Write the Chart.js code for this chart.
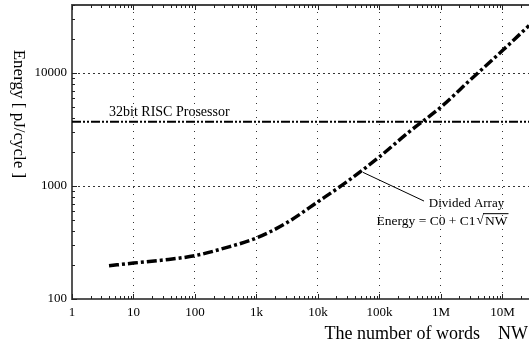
<!DOCTYPE html>
<html>
<head>
<meta charset="utf-8">
<script src="https://cdn.jsdelivr.net/npm/chart.js@4.4.0/dist/chart.umd.min.js"></script>
<style>
  html, body { margin: 0; padding: 0; background: #fff; overflow: hidden; }
</style>
</head>
<body>
<canvas id="chart" width="529" height="343"></canvas>
<script>
// Divided array curve (number of words -> energy)
const curveNW = [4, 10, 30, 100, 300, 1e3, 3e3, 1e4, 3e4, 1e5, 3e5, 1e6, 3e6, 1e7, 2.7e7];
const curveEnergy = [197, 208, 221, 242, 282, 347, 468, 726, 1097, 1815, 3000, 5000, 8700, 15800, 26300];

// 32bit RISC reference level
const riscNW = [1, 2.7e7];
const riscEnergy = [3700, 3700];

// axes
const xTicks = [1, 10, 100, 1e3, 1e4, 1e5, 1e6, 1e7];
const xLabels = ["1", "10", "100", "1k", "10k", "100k", "1M", "10M"];
const yTicks = [100, 1000, 10000];
const yLabels = ["100", "1000", "10000"];
const xRange = [1, 2.7e7];
const yRange = [100, 40000];

// annotation anchors (data units)
const riscLabelAt = [4, 4500];
const noteFrom = [54000, 1320];
const noteTo = [530000, 736];
const noteTextAt = [2.6e6, 705];

const SERIF = "'Liberation Serif', 'DejaVu Serif', serif";

const extrasPlugin = {
  id: "extras",
  afterDraw(chart) {
    const ctx = chart.ctx;
    const xs = chart.scales.x;
    const ys = chart.scales.y;
    const area = chart.chartArea;
    ctx.save();

    // top frame line
    ctx.strokeStyle = "#444";
    ctx.lineWidth = 2;
    ctx.beginPath();
    ctx.moveTo(area.left, area.top);
    ctx.lineTo(area.right, area.top);
    ctx.stroke();

    // minor + major ticks, pointing inwards
    ctx.lineWidth = 1;
    ctx.strokeStyle = "#222";
    for (let d = 1; d <= 1e7; d *= 10) {
      for (let m = 1; m <= 9; m++) {
        const v = m * d;
        if (v > xRange[1]) break;
        const px = Math.round(xs.getPixelForValue(v)) + 0.5;
        const len = m === 1 ? 5 : 3;
        ctx.beginPath();
        ctx.moveTo(px, area.bottom);
        ctx.lineTo(px, area.bottom - len);
        ctx.moveTo(px, area.top);
        ctx.lineTo(px, area.top + len);
        ctx.stroke();
      }
    }
    for (let d = 100; d <= 1e4; d *= 10) {
      for (let m = 1; m <= 9; m++) {
        const v = m * d;
        if (v > yRange[1]) break;
        const py = Math.round(ys.getPixelForValue(v)) + 0.5;
        const len = m === 1 ? 5 : 3;
        ctx.beginPath();
        ctx.moveTo(area.left, py);
        ctx.lineTo(area.left + len, py);
        ctx.stroke();
      }
    }

    ctx.fillStyle = "#000";

    // axis titles
    ctx.font = "18px " + SERIF;
    ctx.textAlign = "right";
    ctx.textBaseline = "middle";
    ctx.fillText("The number of words    NW", 528, 334);

    ctx.font = "17px " + SERIF;
    ctx.save();
    ctx.translate(18, 114);
    ctx.rotate(Math.PI / 2);
    ctx.textAlign = "center";
    ctx.fillText("Energy [ pJ/cycle ]", 0, 0);
    ctx.restore();

    // RISC label
    ctx.font = "14px " + SERIF;
    ctx.textAlign = "left";
    ctx.fillText("32bit RISC Prosessor",
      xs.getPixelForValue(riscLabelAt[0]), ys.getPixelForValue(riscLabelAt[1]));

    // divided array note
    ctx.font = "13px " + SERIF;
    ctx.strokeStyle = "#000";
    ctx.lineWidth = 1;
    ctx.beginPath();
    ctx.moveTo(xs.getPixelForValue(noteFrom[0]), ys.getPixelForValue(noteFrom[1]));
    ctx.lineTo(xs.getPixelForValue(noteTo[0]), ys.getPixelForValue(noteTo[1]));
    ctx.stroke();

    const tx = xs.getPixelForValue(noteTextAt[0]);
    const ty = ys.getPixelForValue(noteTextAt[1]);
    ctx.textAlign = "center";
    ctx.fillText("Divided Array", tx, ty);

    // Energy = C0 + C1 sqrt(NW)
    ctx.font = "13.5px " + SERIF;
    const right = tx + 41;
    const nwW = ctx.measureText("NW").width;
    const rootW = ctx.measureText("\u221A").width;
    ctx.textAlign = "right";
    ctx.fillText("NW", right, ty + 18);
    ctx.fillText("\u221A", right - nwW - 1, ty + 17);
    ctx.fillText("Energy = C0 + C1", right - nwW - rootW - 2, ty + 18);
    ctx.beginPath();
    ctx.moveTo(right - nwW - 2, ty + 10.5);
    ctx.lineTo(right + 1, ty + 10.5);
    ctx.stroke();

    ctx.restore();
  }
};

new Chart(document.getElementById("chart"), {
  type: "line",
  data: {
    datasets: [
      {
        label: "Divided Array",
        data: curveNW.map((v, i) => ({ x: v, y: curveEnergy[i] })),
        borderColor: "#000",
        borderWidth: 3.5,
        borderDash: [10, 3, 3, 3],
        pointRadius: 0,
        fill: false,
        cubicInterpolationMode: "monotone",
      },
      {
        label: "32bit RISC Prosessor",
        data: riscNW.map((v, i) => ({ x: v, y: riscEnergy[i] })),
        borderColor: "#000",
        borderWidth: 2,
        borderDash: [9, 2, 2, 2, 2, 2],
        pointRadius: 0,
        fill: false,
      },
    ],
  },
  options: {
    responsive: false,
    animation: false,
    devicePixelRatio: 1,
    layout: { padding: { top: 5, left: 0, right: 0, bottom: 0 } },
    plugins: {
      legend: { display: false },
      tooltip: { enabled: false },
    },
    scales: {
      x: {
        type: "logarithmic",
        min: xRange[0],
        max: xRange[1],
        afterBuildTicks: (scale) => {
          scale.ticks = xTicks.map((v) => ({ value: v }));
        },
        afterFit: (scale) => {
          scale.height = 44;
          scale.paddingLeft = 0;
          scale.paddingRight = 0;
        },
        ticks: {
          autoSkip: false,
          maxRotation: 0,
          padding: 6,
          color: "#000",
          font: { family: SERIF, size: 13 },
          callback: (value) => xLabels[xTicks.indexOf(value)] ?? "",
        },
        grid: { color: "#333", lineWidth: 1, drawTicks: false },
        border: { display: true, color: "#555", width: 2, dash: [1, 6] },
      },
      y: {
        type: "logarithmic",
        min: yRange[0],
        max: yRange[1],
        afterBuildTicks: (scale) => {
          scale.ticks = yTicks.map((v) => ({ value: v }));
        },
        afterFit: (scale) => {
          scale.width = 72;
          scale.paddingTop = 0;
          scale.paddingBottom = 0;
        },
        ticks: {
          padding: 5,
          color: "#000",
          font: { family: SERIF, size: 13 },
          callback: (value) => yLabels[yTicks.indexOf(value)] ?? "",
        },
        grid: { color: "#333", lineWidth: 1, drawTicks: false },
        border: { display: true, color: "#555", width: 2, dash: [2, 3] },
      },
    },
  },
  plugins: [extrasPlugin],
});
</script>
</body>
</html>
